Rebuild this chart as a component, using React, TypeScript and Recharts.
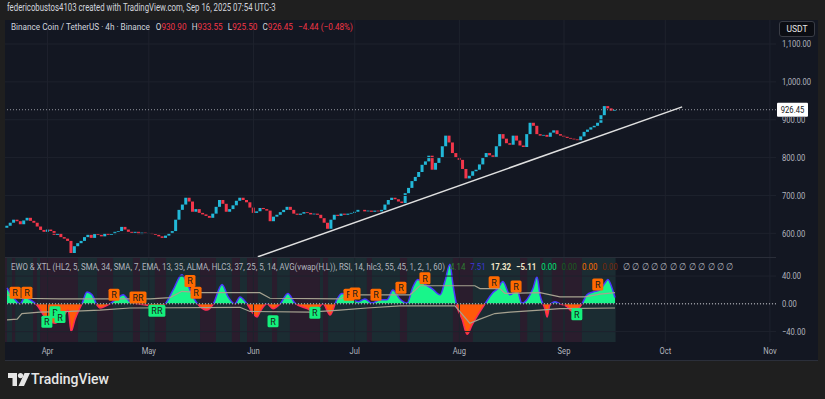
import React from "react";
import {
  ComposedChart,
  Bar,
  Cell,
  Area,
  Line,
  XAxis,
  YAxis,
  ReferenceLine,
  ReferenceArea,
  ReferenceDot,
} from "recharts";

const FONT = "Roboto, 'Liberation Sans', sans-serif";

// time axis: day 0 = Mar 20, 2025
const monthTicks = [12, 42, 73, 103, 134, 165, 195, 226];
const monthLabels = ["Apr", "May", "Jun", "Jul", "Aug", "Sep", "Oct", "Nov"];
const priceTicks = [600, 700, 800, 900, 1000, 1100];
const oscTicks = [-40, 0, 40];

// daily closes (BNB/USDT), Mar 20 -> Sep 16
const firstOpen = 615;
const closes = [
  620, 628, 636, 632, 624, 634, 641, 633, 628, 618,
  609, 604, 610, 606, 596, 600, 590, 586, 580, 548,
  566, 574, 580, 590, 596, 588, 598, 596, 592, 600,
  596, 598, 604, 606, 617, 610, 604, 601, 604, 598,
  602, 600, 601, 598, 596, 592, 588, 594, 600, 606,
  636, 662, 676, 694, 684, 657, 664, 654, 650, 646,
  641, 652, 670, 688, 678, 657, 664, 674, 686, 694,
  688, 682, 668, 654, 658, 667, 664, 660, 632, 644,
  649, 656, 662, 670, 662, 652, 649, 652, 656, 654,
  650, 652, 649, 640, 628, 612, 636, 649, 646, 652,
  649, 652, 654, 657, 662, 662, 658, 660, 657, 660,
  658, 662, 676, 688, 694, 690, 684, 680, 706, 720,
  738, 749, 762, 781, 790, 805, 768, 786, 800, 830,
  858, 840, 812, 800, 794, 770, 745, 752, 764, 768,
  782, 800, 812, 806, 802, 830, 862, 850, 838, 834,
  858, 845, 832, 828, 862, 892, 884, 862, 858, 860,
  855, 866, 872, 862, 858, 855, 852, 850, 848, 846,
  856, 868, 874, 880, 884, 892, 912, 936, 930, 924,
  926,
];

const lastPrice = 926.45;
const trendLine = [
  { x: 74.3, y: 538 },
  { x: 200, y: 934 },
];

// EWO oscillator
const ewoDays = [
  0, 1.8, 3.9, 5.3, 6.8, 8.9, 10.4, 11.8, 14.2, 16.6, 18.1, 19.0, 20.1, 22.2,
  23.7, 25.2, 26.7, 27.5, 30.5, 32.9, 34.4, 36.4, 38.8, 41.5, 44.4, 46.8, 49.2,
  51.8, 53.3, 55.1, 57.2, 59.2, 61.0, 63.7, 65.5, 67.5, 69.0, 70.8, 72.9, 74.1,
  74.9, 77.0, 78.8, 80.9, 83.2, 85.3, 88.9, 91.2, 93.6, 95.7, 97.7, 99.2, 101.6,
  104.0, 106.0, 108.1, 110.5, 112.6, 114.3, 116.4, 118.5, 120.3, 121.7, 123.8,
  125.9, 128.3, 129.7, 131.2, 132.1, 133.3, 134.8, 136.3, 137.7, 139.5, 141.6,
  143.7, 145.4, 146.9, 149.0, 151.1, 152.5, 154.0, 155.8, 157.0, 157.9, 159.4,
  160.0, 160.8, 162.3, 163.8, 165.9, 167.4, 168.8, 170.3, 171.8, 173.6, 175.7,
  177.1, 178.0, 179.2, 180.1,
];
const ewoValues = [
  23, 10, 0, 10, 6, -2, -13, -23, -28, -19, -9, -40, -23, 0,
  17, 13, -2, -6, 0, 9, 13, 3, 0, -2, -4, 0, 20,
  42, 30, 10, -4, -9, -1, 28, 10, 0, 10, 2, -14, -19,
  -12, 0, -7, 0, 15, 1, -7, -12, 0, -16, 6, 15, 10,
  3, 7, 1, 6, 6, 20, 7, 1, 25, 35, 28,
  22, 13, 32, 57, 28, -4, -22, -44, -31, -16, 0,
  15, 22, 32, 13, 20, 1, 6, 22, 39, 13, -8,
  -19, -2, 3, 0, -4, -11, -9, 0, 13, 17, 20,
  30, 35, 23, 9,
];

const upperDays = [0, 3.9, 15.7, 42.4, 48.3, 51.8, 57.2, 74.9, 77.9, 98.6, 101.6, 119.4, 122.3, 138.6, 140.1, 146.0, 147.5, 157.9, 163.8, 171.2, 175.7, 180.1];
const upperValues = [13, 8, 7, 7, 9, 18, 16, 16, 8, 7, 13, 13, 26, 26, 22, 22, 15, 16, 10, 10, 14, 16];
const lowerDays = [0, 3.0, 4.4, 9.8, 18.7, 27.5, 36.4, 69.0, 72.0, 89.8, 98.6, 106.6, 116.4, 132.7, 134.8, 137.1, 140.1, 144.5, 149.0, 157.9, 163.8, 180.1];
const lowerValues = [-23, -22, -14, -12, -11, -9, -6, -5, -11, -12, -9, -6, -3, -3, -15, -28, -22, -14, -12, -9, -7, -6];

const purpleBands = [
  [-0.6, 0], [1.5, 2.4], [7.7, 8.9], [9.8, 21], [26.7, 31.4], [37.3, 39.4],
  [43.8, 47.1], [57.2, 61.9], [66.6, 69], [71.1, 74.3], [78.5, 80],
  [83.8, 92.7], [93.6, 95.1], [106.6, 108.1], [116.4, 118.5], [132.1, 138],
  [152, 154.1], [157.9, 158.8], [161.4, 164.7], [165.3, 170.3],
];

const rMarks = [
  { day: 2.4, value: 16, text: "R", up: true },
  { day: 5.9, value: 16, text: "R", up: true },
  { day: 31.7, value: 13, text: "R", up: true },
  { day: 38.8, value: 9, text: "RR", up: true },
  { day: 54.2, value: 33, text: "R", up: true },
  { day: 56.0, value: 16, text: "R", up: true },
  { day: 101.3, value: 13, text: "R", up: true },
  { day: 103.1, value: 15, text: "R", up: true },
  { day: 109.3, value: 13, text: "R", up: true },
  { day: 116.7, value: 23, text: "R", up: true },
  { day: 123.8, value: 37, text: "R", up: true },
  { day: 144.3, value: 31, text: "R", up: true },
  { day: 150.8, value: 25, text: "R", up: true },
  { day: 175.0, value: 28, text: "R", up: true },
  { day: 11.8, value: -26, text: "R", up: false },
  { day: 14.2, value: -12, text: "R", up: false },
  { day: 15.7, value: -19, text: "R", up: false },
  { day: 44.4, value: -10, text: "RR", up: false },
  { day: 78.8, value: -25, text: "R", up: false },
  { day: 91.2, value: -13, text: "R", up: false },
  { day: 168.8, value: -15, text: "R", up: false },
];

const X_DOMAIN: [number, number] = [-0.6, 227.8];
const GRID = "#1e222d";
const AXIS_TEXT = "#b2b5be";
const NARROW = 0.8;

const candleRows = closes.map((c, i) => {
  const o = i === 0 ? firstOpen : closes[i - 1];
  return { t: i, body: [Math.min(o, c), Math.max(o, c)], up: c >= o };
});

const oscMap = new Map<number, any>();
const put = (days: number[], vals: number[], key: string) =>
  days.forEach((d, i) => {
    const row = oscMap.get(d) ?? { t: d };
    row[key] = vals[i];
    oscMap.set(d, row);
  });
put(ewoDays, ewoValues, "ewo");
put(upperDays, upperValues, "upper");
put(lowerDays, lowerValues, "lower");
const oscRows = [...oscMap.values()].sort((a, b) => a.t - b.t);

const ewoMax = Math.max(0, ...ewoValues);
const ewoMin = Math.min(0, ...ewoValues);
const zeroOffset = ewoMax / (ewoMax - ewoMin);

const fmtPrice = (v: number) =>
  v.toLocaleString("en-US", { minimumFractionDigits: 2, maximumFractionDigits: 2 });
const fmtOsc = (v: number) => (v < 0 ? "\u2212" + Math.abs(v).toFixed(2) : v.toFixed(2));

// narrow tick text (TradingView uses a condensed face)
const SideTick = (fmt: (v: number) => string) => (props: any) => {
  const { x, y, payload } = props;
  return (
    <text
      transform={`translate(${x},${y}) scale(${NARROW},1)`}
      dy="0.35em"
      textAnchor="start"
      fontSize={9.5}
      fill={AXIS_TEXT}
      fontFamily={FONT}
    >
      {fmt(payload.value)}
    </text>
  );
};

const MonthTick = (props: any) => {
  const { x, y, payload } = props;
  return (
    <text
      transform={`translate(${x},${y}) scale(${NARROW},1)`}
      dy="0.71em"
      textAnchor="middle"
      fontSize={9.5}
      fill={AXIS_TEXT}
      fontFamily={FONT}
    >
      {monthLabels[monthTicks.indexOf(payload.value)]}
    </text>
  );
};

const PriceTag = (props: any) => {
  const vb = props.viewBox || {};
  const x = vb.x + vb.width + 1;
  const y = vb.y;
  return (
    <g>
      <rect x={x} y={y - 7} width={31} height={14} fill="#ffffff" rx={1} />
      <text
        transform={`translate(${x + 15.5},${y + 3.5}) scale(${NARROW},1)`}
        textAnchor="middle"
        fontSize={9.5}
        fill="#131722"
        fontFamily={FONT}
      >
        {lastPrice.toFixed(2)}
      </text>
    </g>
  );
};

const RBadge = ({ cx, cy, text, up }: any) => {
  const w = text.length > 1 ? 17 : 11;
  return (
    <g>
      <rect x={cx - w / 2} y={cy - 6} width={w} height={12} rx={1.5} fill={up ? "#ff6a00" : "#14f07c"} />
      <text x={cx} y={cy + 3.5} textAnchor="middle" fontSize={9} fill="#1a1a1a" fontFamily={FONT}>
        {text}
      </text>
    </g>
  );
};

const TvLogo = () => (
  <svg width={22} height={14} style={{ position: "absolute", left: 8, top: 373 }}>
    <path d="M0 0 H9 V13 H4.5 V5 H0 Z" fill="#e6e6e6" />
    <circle cx={12.5} cy={2.6} r={2.6} fill="#e6e6e6" />
    <path d="M16.5 0 H22 L16 13 H10.5 Z" fill="#e6e6e6" />
  </svg>
);

const narrowText = (left: number, top: number, scale: number): React.CSSProperties => ({
  position: "absolute",
  left,
  top,
  fontSize: 9.5,
  whiteSpace: "nowrap",
  transform: `scaleX(${scale})`,
  transformOrigin: "0 0",
});

export default function App() {
  return (
    <div
      style={{
        position: "fixed",
        left: 0,
        top: 0,
        width: 825,
        height: 399,
        background: "#1f1f1f",
        fontFamily: FONT,
        overflow: "hidden",
      }}
    >
      <div style={{ ...narrowText(7, 2, 0.78), fontSize: 10, color: "#d1d4dc" }}>
        federicobustos4103 created with TradingView.com, Sep 16, 2025 07:54 UTC-3
      </div>

      <div
        style={{
          position: "absolute",
          left: 5,
          top: 20,
          width: 813,
          height: 340,
          background: "#131722",
          borderBottom: "1px solid #2b2f3a",
        }}
      />

      {/* main price pane */}
      <div style={{ position: "absolute", left: 5, top: 20 }}>
        <ComposedChart width={813} height={237} data={candleRows} margin={{ top: 0, right: 0, bottom: 0, left: 0 }}>
          <XAxis type="number" dataKey="t" domain={X_DOMAIN} allowDataOverflow hide />
          <YAxis
            orientation="right"
            width={42}
            domain={[537.5, 1163.4]}
            allowDataOverflow
            ticks={priceTicks}
            axisLine={false}
            tickLine={false}
            tickSize={4}
            tickMargin={2}
            tick={SideTick(fmtPrice)}
          />
          {priceTicks.map((p) => (
            <ReferenceLine key={`h${p}`} y={p} stroke={GRID} />
          ))}
          {monthTicks.map((d) => (
            <ReferenceLine key={`v${d}`} x={d} stroke={GRID} />
          ))}
          <ReferenceLine y={lastPrice} stroke="#9598a1" strokeDasharray="1 2" label={PriceTag} />
          <Bar dataKey="body" barSize={3} isAnimationActive={false}>
            {candleRows.map((r, i) => (
              <Cell key={`c${i}`} fill={r.up ? "#22b8d8" : "#f2364a"} />
            ))}
          </Bar>
          <ReferenceLine segment={trendLine} stroke="#e0e0e0" strokeWidth={1.5} />
        </ComposedChart>
      </div>

      <div style={{ ...narrowText(11, 21, 0.86), color: "#d1d4dc" }}>
        Binance Coin / TetherUS · 4h · Binance
        <span style={{ marginLeft: 7 }}>O</span>
        <span style={{ color: "#f23645" }}>930.90</span>
        <span style={{ marginLeft: 6 }}>H</span>
        <span style={{ color: "#f23645" }}>933.55</span>
        <span style={{ marginLeft: 6 }}>L</span>
        <span style={{ color: "#f23645" }}>925.50</span>
        <span style={{ marginLeft: 6 }}>C</span>
        <span style={{ color: "#f23645" }}>926.45</span>
        <span style={{ color: "#f23645", marginLeft: 6 }}>−4.44 (−0.48%)</span>
      </div>

      <div
        style={{
          position: "absolute",
          left: 779,
          top: 21,
          width: 34,
          height: 14,
          background: "#0b0d13",
          border: "1px solid #3a3d46",
          borderRadius: 3,
          color: "#e6e6e6",
          fontSize: 8.5,
          lineHeight: "14px",
          textAlign: "center",
        }}
      >
        USDT
      </div>

      <div style={{ position: "absolute", left: 5, top: 257, width: 771, height: 1, background: "#2a2e39" }} />

      {/* oscillator pane */}
      <div style={{ position: "absolute", left: 5, top: 258 }}>
        <ComposedChart width={813} height={102} data={oscRows} margin={{ top: 0, right: 0, bottom: 0, left: 0 }}>
          <defs>
            <linearGradient id="ewoFill" x1="0" y1="0" x2="0" y2="1">
              <stop offset={0} stopColor="#18f58a" />
              <stop offset={zeroOffset} stopColor="#18f58a" />
              <stop offset={zeroOffset} stopColor="#ff5a0a" />
              <stop offset={1} stopColor="#ff5a0a" />
            </linearGradient>
            <linearGradient id="ewoStroke" x1="0" y1="0" x2="0" y2="1">
              <stop offset={0} stopColor="#4a35ff" />
              <stop offset={zeroOffset} stopColor="#4a35ff" />
              <stop offset={zeroOffset} stopColor="#ff2a55" />
              <stop offset={1} stopColor="#ff2a55" />
            </linearGradient>
          </defs>
          <XAxis
            type="number"
            dataKey="t"
            domain={X_DOMAIN}
            allowDataOverflow
            ticks={monthTicks}
            height={18}
            axisLine={false}
            tickLine={false}
            tickSize={3}
            tickMargin={2.5}
            tick={MonthTick}
          />
          <YAxis
            orientation="right"
            width={42}
            domain={[-55, 66]}
            allowDataOverflow
            ticks={oscTicks}
            axisLine={false}
            tickLine={false}
            tickSize={4}
            tickMargin={2}
            tick={SideTick(fmtOsc)}
          />
          {oscTicks.map((p) => (
            <ReferenceLine key={`oh${p}`} y={p} stroke={GRID} />
          ))}
          {monthTicks.map((d) => (
            <ReferenceLine key={`ov${d}`} x={d} stroke={GRID} />
          ))}
          <ReferenceArea x1={-0.6} x2={180.3} y1={-55} y2={66} fill="#1b2c32" fillOpacity={1} stroke="none" />
          {purpleBands.map(([a, b], i) => (
            <ReferenceArea key={`pb${i}`} x1={a} x2={b} y1={-55} y2={66} fill="#2a1d2d" fillOpacity={1} stroke="none" />
          ))}
          <ReferenceLine y={0} stroke="#c9cbd2" strokeDasharray="1 2" />
          <Area
            dataKey="ewo"
            type="monotone"
            baseValue={0}
            connectNulls
            fill="url(#ewoFill)"
            fillOpacity={1}
            stroke="url(#ewoStroke)"
            strokeWidth={1.5}
            dot={false}
            activeDot={false}
            isAnimationActive={false}
          />
          <Line dataKey="upper" type="linear" connectNulls stroke="#a6a290" strokeWidth={1.2} dot={false} activeDot={false} isAnimationActive={false} />
          <Line dataKey="lower" type="linear" connectNulls stroke="#a6a290" strokeWidth={1.2} dot={false} activeDot={false} isAnimationActive={false} />
          {rMarks.map((m, i) => (
            <ReferenceDot
              key={`r${i}`}
              x={m.day}
              y={m.value}
              r={0}
              shape={(p: any) => <RBadge cx={p.cx} cy={p.cy} text={m.text} up={m.up} />}
            />
          ))}
        </ComposedChart>
      </div>

      <div style={{ ...narrowText(11, 261, 0.83), color: "#b2b5be" }}>
        EWO &amp; XTL (HL2, 5, SMA, 34, SMA, 7, EMA, 13, 35, ALMA, HLC3, 37, 25, 5, 14, AVG(vwap(H,L)), RSI, 14, hlc3, 55, 45, 1, 2, 1, 60)
        <span style={{ color: "#2e7d32", marginLeft: 6 }}>4.14</span>
        <span style={{ color: "#3f37d8", marginLeft: 6 }}>7.51</span>
        <span style={{ color: "#efe6c8", fontWeight: 700, marginLeft: 6 }}>17.32</span>
        <span style={{ color: "#efe6c8", fontWeight: 700, marginLeft: 6 }}>−5.11</span>
        <span style={{ color: "#00e676", marginLeft: 6 }}>0.00</span>
        <span style={{ color: "#1b5e20", marginLeft: 6 }}>0.00</span>
        <span style={{ color: "#ff6d00", marginLeft: 6 }}>0.00</span>
        <span style={{ color: "#7a2a0a", marginLeft: 6 }}>0.00</span>
        <span style={{ marginLeft: 6 }}>∅ ∅ ∅ ∅ ∅ ∅ ∅ ∅ ∅ ∅ ∅ ∅</span>
      </div>

      <TvLogo />
      <div style={{ position: "absolute", left: 31, top: 371, fontSize: 14, fontFamily: FONT, fontWeight: 500, color: "#e6e6e6" }}>
        TradingView
      </div>
    </div>
  );
}
